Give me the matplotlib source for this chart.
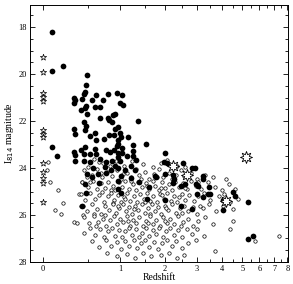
import matplotlib
matplotlib.use("Agg")
import matplotlib.pyplot as plt
from matplotlib.ticker import FixedLocator
import numpy as np

# local galaxies (z = 0), small open stars
star_z = [0, 0, 0, 0, 0, 0, 0, 0, 0, 0, 0, 0, 0]
star_mag = [19.28, 19.92, 20.82, 20.99, 21.16, 22.40, 22.57, 22.70,
            23.77, 24.15, 24.41, 24.62, 25.44]

# large open star bursts
burst_z = [2.22, 2.65, 4.19, 5.21]
burst_mag = [23.90, 24.28, 25.39, 23.51]

# spectroscopic redshifts (filled)
filled_pts = [
    (0.085, 18.2), (0.085, 19.85), (0.2, 19.65), (0.085, 23.1), (0.13, 23.5),
    (0.32, 21.0), (0.33, 21.1), (0.32, 21.25), (0.32, 22.35), (0.33, 22.55), (0.32, 23.3), (0.33, 23.45), (0.33, 23.7),
    (0.49, 20.05), (0.47, 20.45), (0.46, 20.75), (0.45, 20.85), (0.42, 21.05), (0.47, 21.35), (0.46, 21.45),
    (0.49, 21.7), (0.41, 21.55), (0.45, 22.05), (0.47, 22.2), (0.46, 22.4), (0.46, 23.1), (0.41, 23.25),
    (0.45, 23.7), (0.48, 24.24), (0.46, 24.67), (0.47, 25.05), (0.42, 25.6), (0.44, 23.4),
    (0.55, 21.1), (0.61, 20.9), (0.71, 21.1), (0.67, 21.4), (0.6, 21.4), (0.67, 21.85), (0.53, 22.65),
    (0.6, 22.5), (0.61, 22.8), (0.53, 23.4), (0.61, 23.4), (0.53, 23.75), (0.57, 24.0), (0.64, 24.25),
    (0.65, 24.62), (0.59, 23.2), (0.67, 23.6), (0.55, 24.4),
    (0.79, 20.85), (0.79, 21.85), (0.81, 21.95), (0.86, 22.05), (0.81, 22.6), (0.73, 22.75), (0.76, 23.25),
    (0.89, 23.25), (0.77, 23.75), (0.86, 23.7), (0.76, 24.2), (0.83, 23.3), (0.88, 21.75), (0.74, 23.95), (0.84, 24.1),
    (0.91, 21.7), (0.91, 22.35), (0.9, 22.6), (0.94, 23.05), (0.96, 22.8), (0.96, 23.55), (0.91, 23.9),
    (0.95, 20.8), (1.03, 20.9), (1.0, 21.25), (1.05, 21.33), (0.97, 22.27), (1.0, 22.49), (1.02, 22.7),
    (0.97, 22.96), (1.03, 23.13), (0.97, 23.34), (1.03, 23.34), (0.97, 23.98), (1.02, 24.32), (1.0, 23.7),
    (0.96, 24.55), (0.97, 24.9), (1.02, 25.05),
    (1.15, 22.7), (1.24, 23.04), (1.24, 23.26), (1.24, 23.47), (1.21, 23.9), (1.31, 23.68), (1.21, 24.41),
    (1.35, 22.0), (1.12, 23.5), (1.1, 24.1), (1.28, 24.1), (1.38, 24.6),
    (1.53, 22.96), (1.76, 24.37), (1.74, 24.32), (1.6, 24.8), (1.55, 25.3),
    (2.0, 23.38), (1.97, 23.73), (2.05, 23.77), (2.52, 23.77), (2.82, 23.98), (2.92, 23.98), (2.22, 24.28),
    (2.25, 24.45), (2.22, 24.62), (2.0, 24.24), (3.22, 24.32), (3.22, 24.45), (2.46, 24.75), (2.59, 24.67),
    (2.96, 24.67), (3.03, 24.75), (3.45, 24.8), (3.4, 25.1), (3.49, 25.1), (2.99, 25.1), (3.22, 25.22),
    (2.0, 25.35), (2.46, 25.6), (2.82, 25.74),
    (4.05, 25.35), (4.19, 25.35), (4.05, 25.78), (4.53, 25.0), (4.62, 25.18), (5.32, 25.44), (5.32, 27.02), (5.6, 26.9),
]

# photometric redshifts (open)
open_pts = [
    (0.05, 23.75), (0.04, 24.1), (0.07, 24.6), (0.14, 24.95), (0.11, 25.8), (0.18, 25.95), (0.2, 25.5),
    (0.32, 26.3), (0.44, 26.75), (0.38, 25.1), (0.42, 24.6), (0.41, 25.6), (0.43, 26.0),
    # 23.5 - 24
    (0.58, 23.6), (0.72, 23.8), (0.93, 23.7), (1.08, 23.9), (1.45, 23.85), (1.7, 23.95), (2.05, 23.65),
    (2.35, 23.9), (0.5, 23.95), (0.66, 23.75), (1.22, 23.7), (1.9, 23.8), (2.6, 23.95), (0.82, 23.9),
    # 24 - 24.5
    (0.45, 24.1), (0.55, 24.3), (0.62, 24.05), (0.7, 24.4), (0.78, 24.15), (0.86, 24.35), (0.95, 24.1),
    (1.02, 24.45), (1.12, 24.2), (1.2, 24.4), (1.3, 24.05), (1.38, 24.3), (1.5, 24.15), (1.6, 24.45),
    (1.72, 24.25), (1.85, 24.05), (1.95, 24.4), (2.1, 24.2), (2.2, 24.45), (2.45, 24.1), (2.55, 24.35),
    (2.8, 24.2), (3.0, 24.45), (3.3, 24.3), (0.48, 24.4), (0.68, 24.2), (1.05, 24.25), (1.42, 24.45),
    (1.78, 24.4), (2.3, 24.3), (3.6, 24.4), (4.2, 24.45),
    # 24.5 - 25
    (0.42, 24.6), (0.5, 24.8), (0.57, 24.55), (0.63, 24.9), (0.69, 24.65), (0.75, 24.85), (0.8, 24.6),
    (0.88, 24.75), (0.92, 24.95), (0.98, 24.6), (1.04, 24.8), (1.1, 24.55), (1.16, 24.9), (1.24, 24.7),
    (1.3, 24.95), (1.36, 24.6), (1.44, 24.8), (1.52, 24.65), (1.6, 24.9), (1.68, 24.55), (1.75, 24.75),
    (1.83, 24.95), (1.92, 24.6), (2.0, 24.85), (2.1, 24.7), (2.18, 24.95), (2.28, 24.6), (2.4, 24.8),
    (2.52, 24.65), (2.66, 24.9), (2.78, 24.55), (2.95, 24.75), (3.15, 24.9), (3.4, 24.6), (3.7, 24.8),
    (4.0, 24.95), (4.35, 24.7), (4.6, 24.9), (0.52, 24.6), (0.85, 24.95), (1.2, 24.55), (1.56, 24.75),
    (1.88, 24.85), (2.22, 24.55), (2.6, 24.85), (3.05, 24.6),
    # 25 - 25.5
    (0.41, 25.1), (0.46, 25.35), (0.53, 25.05), (0.6, 25.3), (0.66, 25.15), (0.73, 25.45), (0.79, 25.2),
    (0.84, 25.05), (0.9, 25.35), (0.96, 25.15), (1.01, 25.45), (1.07, 25.25), (1.13, 25.05), (1.19, 25.4),
    (1.26, 25.2), (1.33, 25.45), (1.4, 25.1), (1.47, 25.3), (1.55, 25.05), (1.63, 25.4), (1.7, 25.2),
    (1.8, 25.45), (1.87, 25.1), (1.97, 25.3), (2.06, 25.05), (2.15, 25.4), (2.25, 25.2), (2.35, 25.45),
    (2.48, 25.1), (2.6, 25.35), (2.72, 25.15), (2.88, 25.4), (3.05, 25.2), (3.25, 25.05), (3.5, 25.35),
    (3.85, 25.2), (4.1, 25.1), (4.4, 25.45), (4.8, 25.3), (0.7, 25.0), (1.1, 25.3), (1.5, 25.45),
    (1.93, 25.15), (2.4, 25.25), (0.88, 25.5),
    # 25.5 - 26
    (0.43, 25.6), (0.49, 25.85), (0.56, 25.55), (0.62, 25.75), (0.68, 25.95), (0.74, 25.6), (0.81, 25.8),
    (0.87, 25.55), (0.93, 25.9), (0.99, 25.7), (1.05, 25.55), (1.11, 25.85), (1.17, 25.65), (1.23, 25.95),
    (1.29, 25.6), (1.36, 25.8), (1.43, 25.55), (1.5, 25.9), (1.58, 25.7), (1.66, 25.55), (1.74, 25.85),
    (1.82, 25.65), (1.9, 25.95), (1.99, 25.6), (2.08, 25.8), (2.18, 25.55), (2.3, 25.9), (2.42, 25.7),
    (2.55, 25.6), (2.7, 25.85), (2.85, 25.65), (3.0, 25.95), (3.2, 25.7), (3.45, 25.55), (3.75, 25.85),
    (4.05, 25.6), (4.5, 25.75), (0.58, 25.95), (0.97, 25.6), (1.27, 25.75), (1.62, 25.95), (2.02, 25.7),
    (2.5, 25.9), (3.1, 25.6),
    # 26 - 26.5
    (0.45, 26.1), (0.51, 26.35), (0.58, 26.05), (0.64, 26.3), (0.71, 26.15), (0.77, 26.45), (0.83, 26.2),
    (0.89, 26.05), (0.95, 26.4), (1.0, 26.15), (1.06, 26.3), (1.12, 26.05), (1.18, 26.45), (1.24, 26.2),
    (1.31, 26.35), (1.38, 26.1), (1.45, 26.45), (1.53, 26.25), (1.61, 26.05), (1.69, 26.4), (1.77, 26.2),
    (1.86, 26.45), (1.95, 26.1), (2.04, 26.35), (2.14, 26.15), (2.26, 26.4), (2.38, 26.05), (2.52, 26.3),
    (2.68, 26.15), (2.84, 26.45), (3.02, 26.25), (3.3, 26.1), (3.6, 26.4), (0.36, 26.35), (0.74, 26.0),
    (1.15, 26.25), (1.57, 26.35), (1.99, 26.25), (2.45, 26.45), (0.61, 26.45), (4.5, 26.25),
    # 26.5 - 27
    (0.53, 26.55), (0.6, 26.85), (0.67, 26.6), (0.73, 26.95), (0.8, 26.7), (0.86, 26.55), (0.92, 26.9),
    (0.98, 26.65), (1.04, 26.95), (1.1, 26.7), (1.17, 26.55), (1.23, 26.85), (1.3, 26.6), (1.37, 26.95),
    (1.44, 26.75), (1.52, 26.55), (1.6, 26.9), (1.68, 26.65), (1.76, 26.8), (1.85, 26.55), (1.94, 26.95),
    (2.03, 26.7), (2.13, 26.55), (2.24, 26.85), (2.36, 26.65), (2.5, 26.95), (2.65, 26.6), (2.82, 26.8),
    (3.0, 26.6), (3.25, 26.9), (4.37, 26.6), (7.35, 26.9),
    # 27 - 28
    (0.55, 27.1), (0.65, 27.35), (0.76, 27.05), (0.85, 27.3), (0.94, 27.15), (1.02, 27.45), (1.09, 27.1),
    (1.16, 27.3), (1.26, 27.05), (1.34, 27.4), (1.42, 27.2), (1.5, 27.05), (1.6, 27.35), (1.71, 27.15),
    (1.82, 27.45), (1.93, 27.2), (2.05, 27.05), (2.18, 27.3), (2.32, 27.1), (2.5, 27.4), (2.7, 27.2),
    (2.95, 27.05), (3.7, 27.55), (5.73, 27.1),
    (0.78, 27.6), (0.95, 27.75), (1.12, 27.65), (1.28, 27.85), (1.45, 27.6), (1.65, 27.75), (1.88, 27.7),
    (2.1, 27.6), (2.35, 27.85), (2.55, 27.7),
]

x_ticks = [0, 1, 2, 3, 4, 5, 6, 7, 8]
y_ticks = [18, 20, 22, 24, 26, 28]

plt.rcParams['font.family'] = ['Liberation Serif', 'DejaVu Serif']

fig = plt.figure(figsize=(2.93, 2.84), dpi=100)
ax = fig.add_axes([0.1024, 0.0775, 0.8806, 0.905])

# x axis is log(1+z)
ax.set_xscale('function', functions=(lambda z: np.log10(1 + z), lambda u: 10 ** u - 1))

fz, fm = zip(*filled_pts)
oz, om = zip(*open_pts)

ax.scatter(oz, om, s=6, facecolors='white', edgecolors='black', linewidths=0.5, zorder=2)
ax.scatter(fz, fm, s=17, c='black', linewidths=0, zorder=3)
ax.scatter(star_z, star_mag, s=22, marker='*', facecolors='white', edgecolors='black', linewidths=0.5, zorder=3)
ax.scatter(burst_z, burst_mag, s=75, marker=(8, 1, 0), facecolors='white', edgecolors='black', linewidths=0.6, zorder=4)

ax.set_xlim(-0.11, 8.06)
ax.set_ylim(28, 17.06)

ax.xaxis.set_major_locator(FixedLocator(x_ticks))
ax.xaxis.set_minor_locator(FixedLocator(np.arange(0.5, 8, 1.0)))
ax.set_xticklabels([str(t) for t in x_ticks])
ax.set_yticks(y_ticks)
ax.yaxis.set_minor_locator(FixedLocator(np.arange(17.5, 28, 0.5)))

ax.tick_params(which='both', direction='in', top=True, right=True, labelsize=6, width=0.6, pad=2)
ax.tick_params(which='major', length=3.5)
ax.tick_params(which='minor', length=2)
for sp in ax.spines.values():
    sp.set_linewidth(0.7)

ax.set_xlabel("Redshift", fontsize=7, labelpad=0.5)
ax.set_ylabel("I$_{814}$ magnitude", fontsize=7, labelpad=2)

fig.savefig("out.png", dpi=100)
